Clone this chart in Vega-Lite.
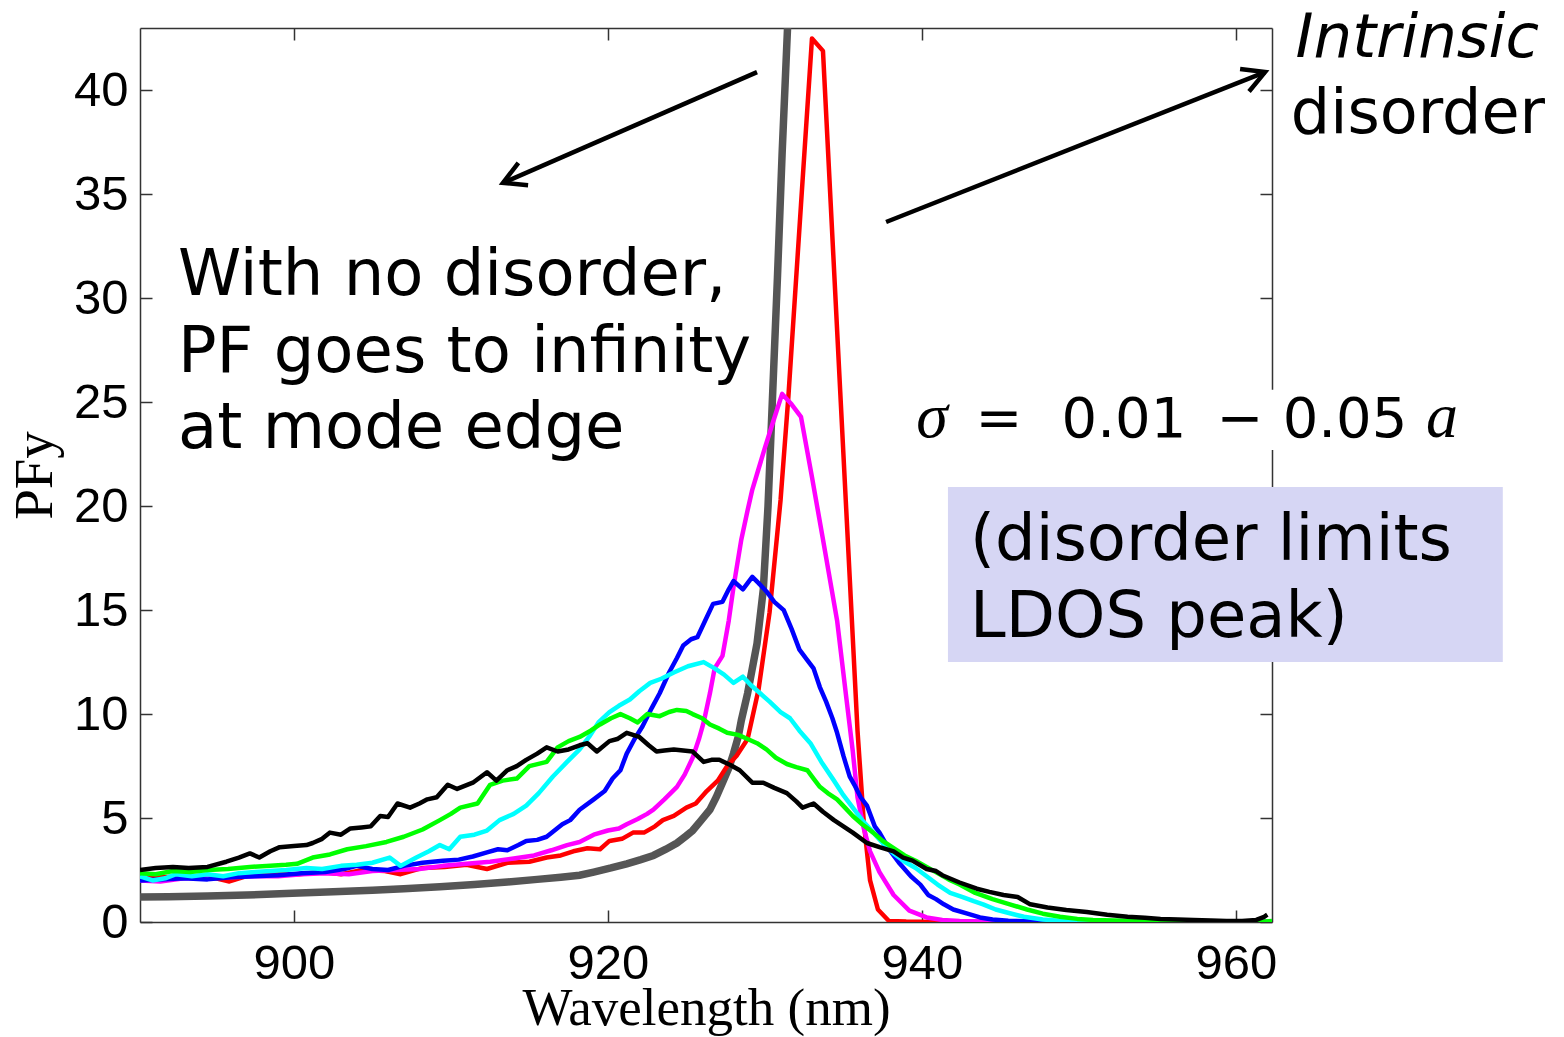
{
  "$schema": "https://vega.github.io/schema/vega-lite/v6.json",
  "width": 1132,
  "height": 894,
  "autosize": {"type": "none"},
  "padding": {"left": 140, "top": 28, "right": 292, "bottom": 115},
  "background": "white",
  "config": {"view": {"stroke": null}},
  "datasets": {
    "gray": [
      {"s":"s0","x":890.2,"y":1.2},{"s":"s0","x":892,"y":1.22},{"s":"s0","x":894.5,"y":1.25},{"s":"s0","x":897,"y":1.3},{"s":"s0","x":899.9,"y":1.38},{"s":"s0","x":902.5,"y":1.45},{"s":"s0","x":905,"y":1.53},{"s":"s0","x":907,"y":1.6},{"s":"s0","x":909.3,"y":1.7},{"s":"s0","x":911.5,"y":1.8},{"s":"s0","x":913.6,"y":1.92},{"s":"s0","x":915.5,"y":2.05},{"s":"s0","x":917,"y":2.15},{"s":"s0","x":918.2,"y":2.25},{"s":"s0","x":919.1,"y":2.4},{"s":"s0","x":920.2,"y":2.6},{"s":"s0","x":921.2,"y":2.8},{"s":"s0","x":922.1,"y":3.0},{"s":"s0","x":922.9,"y":3.2},{"s":"s0","x":923.7,"y":3.5},{"s":"s0","x":924.4,"y":3.8},{"s":"s0","x":925.0,"y":4.15},{"s":"s0","x":925.4,"y":4.4},{"s":"s0","x":925.9,"y":4.85},{"s":"s0","x":926.5,"y":5.4},{"s":"s0","x":926.9,"y":6.0},{"s":"s0","x":927.3,"y":6.7},{"s":"s0","x":927.7,"y":7.4},{"s":"s0","x":928.0,"y":8.1},{"s":"s0","x":928.3,"y":8.9},{"s":"s0","x":928.5,"y":9.7},{"s":"s0","x":928.9,"y":11.0},{"s":"s0","x":929.2,"y":12.2},{"s":"s0","x":929.5,"y":13.4},{"s":"s0","x":929.9,"y":16.0},{"s":"s0","x":930.2,"y":20.0},{"s":"s0","x":930.5,"y":25.5},{"s":"s0","x":930.8,"y":31},{"s":"s0","x":931.1,"y":37},{"s":"s0","x":931.5,"y":44},{"s":"s0","x":931.8,"y":55}
    ],
    "curves": [
      {"s":"s1","x":890.2,"y":2.1},{"s":"s1","x":891.5,"y":2.15},{"s":"s1","x":893.0,"y":2.2},{"s":"s1","x":894.5,"y":2.2},{"s":"s1","x":895.9,"y":1.95},{"s":"s1","x":897.2,"y":2.25},{"s":"s1","x":898.8,"y":2.3},{"s":"s1","x":900.3,"y":2.3},{"s":"s1","x":901.8,"y":2.4},{"s":"s1","x":903.0,"y":2.3},{"s":"s1","x":904.4,"y":2.5},{"s":"s1","x":905.8,"y":2.45},{"s":"s1","x":906.8,"y":2.3},{"s":"s1","x":908.2,"y":2.6},{"s":"s1","x":909.6,"y":2.65},{"s":"s1","x":911.0,"y":2.75},{"s":"s1","x":912.3,"y":2.55},{"s":"s1","x":913.6,"y":2.85},{"s":"s1","x":915.0,"y":2.9},{"s":"s1","x":916.1,"y":3.1},{"s":"s1","x":917.0,"y":3.2},{"s":"s1","x":917.8,"y":3.4},{"s":"s1","x":918.7,"y":3.55},{"s":"s1","x":919.5,"y":3.5},{"s":"s1","x":920.1,"y":3.9},{"s":"s1","x":920.9,"y":4.0},{"s":"s1","x":921.6,"y":4.3},{"s":"s1","x":922.3,"y":4.3},{"s":"s1","x":923.0,"y":4.6},{"s":"s1","x":923.5,"y":4.9},{"s":"s1","x":924.2,"y":5.1},{"s":"s1","x":925.0,"y":5.5},{"s":"s1","x":925.6,"y":5.7},{"s":"s1","x":926.3,"y":6.3},{"s":"s1","x":927.0,"y":6.8},{"s":"s1","x":927.6,"y":7.5},{"s":"s1","x":928.2,"y":8.0},{"s":"s1","x":928.9,"y":8.8},{"s":"s1","x":929.6,"y":11.2},{"s":"s1","x":930.3,"y":14.9},{"s":"s1","x":931.0,"y":20.3},{"s":"s1","x":931.5,"y":25.3},{"s":"s1","x":932.3,"y":34.5},{"s":"s1","x":933.0,"y":42.5},{"s":"s1","x":933.7,"y":41.9},{"s":"s1","x":934.8,"y":25.5},{"s":"s1","x":935.9,"y":9.2},{"s":"s1","x":936.3,"y":4.8},{"s":"s1","x":936.7,"y":2.0},{"s":"s1","x":937.2,"y":0.6},{"s":"s1","x":937.9,"y":0.05},{"s":"s1","x":939,"y":0.02},{"s":"s1","x":941,"y":0},{"s":"s1","x":950,"y":0},{"s":"s1","x":962.3,"y":0},

      {"s":"s2","x":890.2,"y":2.0},{"s":"s2","x":891.5,"y":1.95},{"s":"s2","x":893,"y":2.1},{"s":"s2","x":894.5,"y":2.1},{"s":"s2","x":896,"y":2.15},{"s":"s2","x":897.5,"y":2.2},{"s":"s2","x":899,"y":2.2},{"s":"s2","x":900.5,"y":2.3},{"s":"s2","x":902,"y":2.35},{"s":"s2","x":903.5,"y":2.3},{"s":"s2","x":905,"y":2.45},{"s":"s2","x":906.5,"y":2.5},{"s":"s2","x":908,"y":2.55},{"s":"s2","x":909.5,"y":2.7},{"s":"s2","x":911,"y":2.8},{"s":"s2","x":912.5,"y":2.9},{"s":"s2","x":914,"y":3.05},{"s":"s2","x":915.3,"y":3.2},{"s":"s2","x":916.4,"y":3.45},{"s":"s2","x":917.4,"y":3.7},{"s":"s2","x":918.2,"y":3.85},{"s":"s2","x":919.1,"y":4.2},{"s":"s2","x":920.0,"y":4.4},{"s":"s2","x":920.7,"y":4.5},{"s":"s2","x":921.2,"y":4.7},{"s":"s2","x":921.9,"y":4.95},{"s":"s2","x":922.5,"y":5.2},{"s":"s2","x":922.9,"y":5.4},{"s":"s2","x":923.6,"y":5.9},{"s":"s2","x":924.4,"y":6.5},{"s":"s2","x":924.9,"y":7.1},{"s":"s2","x":925.4,"y":7.9},{"s":"s2","x":925.8,"y":8.8},{"s":"s2","x":926.1,"y":9.6},{"s":"s2","x":926.5,"y":11.0},{"s":"s2","x":926.8,"y":12.2},{"s":"s2","x":927.3,"y":12.8},{"s":"s2","x":927.7,"y":14.5},{"s":"s2","x":928.0,"y":16.1},{"s":"s2","x":928.5,"y":18.4},{"s":"s2","x":928.9,"y":19.8},{"s":"s2","x":929.2,"y":20.8},{"s":"s2","x":929.6,"y":21.8},{"s":"s2","x":930.0,"y":22.8},{"s":"s2","x":930.5,"y":24.0},{"s":"s2","x":931.1,"y":25.4},{"s":"s2","x":931.7,"y":24.9},{"s":"s2","x":932.3,"y":24.3},{"s":"s2","x":933.0,"y":21.4},{"s":"s2","x":933.7,"y":18.4},{"s":"s2","x":934.6,"y":14.5},{"s":"s2","x":935.2,"y":10.7},{"s":"s2","x":935.6,"y":8.2},{"s":"s2","x":935.9,"y":6.0},{"s":"s2","x":936.3,"y":4.5},{"s":"s2","x":936.7,"y":3.4},{"s":"s2","x":937.3,"y":2.4},{"s":"s2","x":938.2,"y":1.3},{"s":"s2","x":939.2,"y":0.55},{"s":"s2","x":940.3,"y":0.22},{"s":"s2","x":941.3,"y":0.1},{"s":"s2","x":942.4,"y":0.05},{"s":"s2","x":944,"y":0.02},{"s":"s2","x":946,"y":0},{"s":"s2","x":962.3,"y":0},

      {"s":"s3","x":890.2,"y":2.0},{"s":"s3","x":891.5,"y":2.05},{"s":"s3","x":893,"y":2.1},{"s":"s3","x":894.5,"y":2.05},{"s":"s3","x":896,"y":2.15},{"s":"s3","x":897.5,"y":2.2},{"s":"s3","x":899,"y":2.25},{"s":"s3","x":900.5,"y":2.35},{"s":"s3","x":902,"y":2.4},{"s":"s3","x":903.2,"y":2.55},{"s":"s3","x":904.0,"y":2.7},{"s":"s3","x":905,"y":2.55},{"s":"s3","x":906,"y":2.5},{"s":"s3","x":907,"y":2.7},{"s":"s3","x":908.2,"y":2.85},{"s":"s3","x":909.5,"y":2.95},{"s":"s3","x":910.5,"y":3.0},{"s":"s3","x":911.4,"y":3.15},{"s":"s3","x":912.3,"y":3.35},{"s":"s3","x":913.0,"y":3.5},{"s":"s3","x":913.6,"y":3.45},{"s":"s3","x":914.3,"y":3.7},{"s":"s3","x":914.8,"y":3.9},{"s":"s3","x":915.5,"y":3.95},{"s":"s3","x":916.1,"y":4.1},{"s":"s3","x":916.6,"y":4.4},{"s":"s3","x":917.1,"y":4.7},{"s":"s3","x":917.6,"y":4.9},{"s":"s3","x":918.2,"y":5.4},{"s":"s3","x":919.1,"y":5.9},{"s":"s3","x":919.8,"y":6.3},{"s":"s3","x":920.3,"y":6.9},{"s":"s3","x":920.8,"y":7.3},{"s":"s3","x":921.2,"y":8.1},{"s":"s3","x":921.7,"y":8.8},{"s":"s3","x":922.2,"y":9.4},{"s":"s3","x":922.8,"y":10.3},{"s":"s3","x":923.3,"y":11.0},{"s":"s3","x":923.9,"y":12.0},{"s":"s3","x":924.4,"y":12.7},{"s":"s3","x":924.8,"y":13.3},{"s":"s3","x":925.3,"y":13.6},{"s":"s3","x":925.7,"y":13.7},{"s":"s3","x":926.2,"y":14.5},{"s":"s3","x":926.7,"y":15.3},{"s":"s3","x":927.3,"y":15.4},{"s":"s3","x":927.7,"y":16.0},{"s":"s3","x":928.0,"y":16.4},{"s":"s3","x":928.6,"y":16.0},{"s":"s3","x":929.2,"y":16.6},{"s":"s3","x":929.6,"y":16.3},{"s":"s3","x":930.1,"y":15.9},{"s":"s3","x":930.6,"y":15.4},{"s":"s3","x":931.2,"y":15.0},{"s":"s3","x":931.7,"y":14.1},{"s":"s3","x":932.2,"y":13.1},{"s":"s3","x":932.7,"y":12.6},{"s":"s3","x":933.1,"y":12.2},{"s":"s3","x":933.5,"y":11.3},{"s":"s3","x":933.9,"y":10.6},{"s":"s3","x":934.3,"y":9.8},{"s":"s3","x":934.6,"y":9.1},{"s":"s3","x":935.0,"y":8.0},{"s":"s3","x":935.4,"y":7.0},{"s":"s3","x":935.7,"y":6.6},{"s":"s3","x":936.1,"y":6.0},{"s":"s3","x":936.5,"y":5.6},{"s":"s3","x":937.0,"y":4.6},{"s":"s3","x":937.3,"y":4.3},{"s":"s3","x":937.9,"y":3.5},{"s":"s3","x":938.6,"y":2.8},{"s":"s3","x":939.3,"y":2.2},{"s":"s3","x":939.9,"y":1.8},{"s":"s3","x":940.4,"y":1.3},{"s":"s3","x":940.9,"y":1.1},{"s":"s3","x":941.4,"y":0.85},{"s":"s3","x":942.0,"y":0.6},{"s":"s3","x":942.9,"y":0.4},{"s":"s3","x":943.7,"y":0.22},{"s":"s3","x":944.5,"y":0.12},{"s":"s3","x":945.5,"y":0.06},{"s":"s3","x":947.3,"y":0.02},{"s":"s3","x":950,"y":0},{"s":"s3","x":962.3,"y":0},

      {"s":"s4","x":890.2,"y":2.2},{"s":"s4","x":891.0,"y":2.0},{"s":"s4","x":891.8,"y":2.1},{"s":"s4","x":892.5,"y":2.3},{"s":"s4","x":893.5,"y":2.2},{"s":"s4","x":894.5,"y":2.3},{"s":"s4","x":895.5,"y":2.2},{"s":"s4","x":896.5,"y":2.35},{"s":"s4","x":897.5,"y":2.4},{"s":"s4","x":898.5,"y":2.45},{"s":"s4","x":899.5,"y":2.5},{"s":"s4","x":900.8,"y":2.6},{"s":"s4","x":901.8,"y":2.55},{"s":"s4","x":903.0,"y":2.7},{"s":"s4","x":904.0,"y":2.75},{"s":"s4","x":905.0,"y":2.85},{"s":"s4","x":906.1,"y":3.1},{"s":"s4","x":906.8,"y":2.7},{"s":"s4","x":907.8,"y":3.1},{"s":"s4","x":908.6,"y":3.4},{"s":"s4","x":909.3,"y":3.7},{"s":"s4","x":909.9,"y":3.5},{"s":"s4","x":910.6,"y":4.1},{"s":"s4","x":911.5,"y":4.2},{"s":"s4","x":912.3,"y":4.4},{"s":"s4","x":913.1,"y":4.9},{"s":"s4","x":914.0,"y":5.2},{"s":"s4","x":914.8,"y":5.6},{"s":"s4","x":915.6,"y":6.2},{"s":"s4","x":916.5,"y":7.0},{"s":"s4","x":917.4,"y":7.7},{"s":"s4","x":918.2,"y":8.3},{"s":"s4","x":918.8,"y":8.9},{"s":"s4","x":919.4,"y":9.6},{"s":"s4","x":920.1,"y":10.1},{"s":"s4","x":920.7,"y":10.4},{"s":"s4","x":921.4,"y":10.7},{"s":"s4","x":922.0,"y":11.1},{"s":"s4","x":922.7,"y":11.5},{"s":"s4","x":923.4,"y":11.7},{"s":"s4","x":924.2,"y":12.0},{"s":"s4","x":925.1,"y":12.3},{"s":"s4","x":926.1,"y":12.5},{"s":"s4","x":926.8,"y":12.2},{"s":"s4","x":927.4,"y":11.9},{"s":"s4","x":928.0,"y":11.5},{"s":"s4","x":928.6,"y":11.8},{"s":"s4","x":929.1,"y":11.4},{"s":"s4","x":929.7,"y":11.0},{"s":"s4","x":930.3,"y":10.6},{"s":"s4","x":931.0,"y":10.1},{"s":"s4","x":931.6,"y":9.8},{"s":"s4","x":932.2,"y":9.2},{"s":"s4","x":932.9,"y":8.6},{"s":"s4","x":933.6,"y":7.7},{"s":"s4","x":934.4,"y":6.8},{"s":"s4","x":935.0,"y":6.1},{"s":"s4","x":935.6,"y":5.5},{"s":"s4","x":936.2,"y":4.9},{"s":"s4","x":936.9,"y":4.3},{"s":"s4","x":937.5,"y":3.8},{"s":"s4","x":938.2,"y":3.3},{"s":"s4","x":938.9,"y":2.9},{"s":"s4","x":939.6,"y":2.6},{"s":"s4","x":940.3,"y":2.2},{"s":"s4","x":941.0,"y":1.8},{"s":"s4","x":941.8,"y":1.4},{"s":"s4","x":942.6,"y":1.2},{"s":"s4","x":943.3,"y":1.0},{"s":"s4","x":943.9,"y":0.85},{"s":"s4","x":944.7,"y":0.6},{"s":"s4","x":945.6,"y":0.42},{"s":"s4","x":946.5,"y":0.25},{"s":"s4","x":947.7,"y":0.12},{"s":"s4","x":949.2,"y":0.04},{"s":"s4","x":951,"y":0.01},{"s":"s4","x":955,"y":0},{"s":"s4","x":962.3,"y":0},

      {"s":"s5","x":890.2,"y":2.35},{"s":"s5","x":891.2,"y":2.3},{"s":"s5","x":892.3,"y":2.45},{"s":"s5","x":893.4,"y":2.4},{"s":"s5","x":894.5,"y":2.5},{"s":"s5","x":895.8,"y":2.55},{"s":"s5","x":897.2,"y":2.65},{"s":"s5","x":898.5,"y":2.7},{"s":"s5","x":899.5,"y":2.75},{"s":"s5","x":900.2,"y":2.8},{"s":"s5","x":901.2,"y":3.1},{"s":"s5","x":902.3,"y":3.25},{"s":"s5","x":903.4,"y":3.5},{"s":"s5","x":904.6,"y":3.65},{"s":"s5","x":905.9,"y":3.85},{"s":"s5","x":907.0,"y":4.1},{"s":"s5","x":908.2,"y":4.45},{"s":"s5","x":909.3,"y":4.9},{"s":"s5","x":910.0,"y":5.2},{"s":"s5","x":910.6,"y":5.5},{"s":"s5","x":911.7,"y":5.7},{"s":"s5","x":912.5,"y":6.6},{"s":"s5","x":913.3,"y":6.8},{"s":"s5","x":914.2,"y":6.9},{"s":"s5","x":915.0,"y":7.5},{"s":"s5","x":916.1,"y":7.7},{"s":"s5","x":916.8,"y":8.4},{"s":"s5","x":917.5,"y":8.7},{"s":"s5","x":918.2,"y":8.9},{"s":"s5","x":918.9,"y":9.2},{"s":"s5","x":919.5,"y":9.5},{"s":"s5","x":920.2,"y":9.8},{"s":"s5","x":920.8,"y":10.0},{"s":"s5","x":921.4,"y":9.8},{"s":"s5","x":921.9,"y":9.6},{"s":"s5","x":922.5,"y":10.0},{"s":"s5","x":923.3,"y":9.9},{"s":"s5","x":923.9,"y":10.1},{"s":"s5","x":924.4,"y":10.2},{"s":"s5","x":925.0,"y":10.15},{"s":"s5","x":925.4,"y":10.0},{"s":"s5","x":926.0,"y":9.8},{"s":"s5","x":926.5,"y":9.5},{"s":"s5","x":927.1,"y":9.3},{"s":"s5","x":927.6,"y":9.1},{"s":"s5","x":928.3,"y":9.0},{"s":"s5","x":928.9,"y":8.8},{"s":"s5","x":929.5,"y":8.6},{"s":"s5","x":930.1,"y":8.3},{"s":"s5","x":930.7,"y":7.9},{"s":"s5","x":931.4,"y":7.6},{"s":"s5","x":932.0,"y":7.45},{"s":"s5","x":932.7,"y":7.3},{"s":"s5","x":933.1,"y":6.9},{"s":"s5","x":933.5,"y":6.5},{"s":"s5","x":934.0,"y":6.2},{"s":"s5","x":934.6,"y":5.9},{"s":"s5","x":935.1,"y":5.5},{"s":"s5","x":935.6,"y":5.1},{"s":"s5","x":936.2,"y":4.7},{"s":"s5","x":936.9,"y":4.3},{"s":"s5","x":937.5,"y":3.9},{"s":"s5","x":938.2,"y":3.55},{"s":"s5","x":938.9,"y":3.2},{"s":"s5","x":939.6,"y":2.95},{"s":"s5","x":940.3,"y":2.65},{"s":"s5","x":941.0,"y":2.35},{"s":"s5","x":941.7,"y":2.05},{"s":"s5","x":942.4,"y":1.8},{"s":"s5","x":943.4,"y":1.4},{"s":"s5","x":944.5,"y":1.1},{"s":"s5","x":945.6,"y":0.85},{"s":"s5","x":946.7,"y":0.6},{"s":"s5","x":947.7,"y":0.4},{"s":"s5","x":948.8,"y":0.25},{"s":"s5","x":949.9,"y":0.15},{"s":"s5","x":950.9,"y":0.1},{"s":"s5","x":953,"y":0.06},{"s":"s5","x":956,"y":0.04},{"s":"s5","x":959,"y":0.02},{"s":"s5","x":961.7,"y":0.01},{"s":"s5","x":962.3,"y":0.05},

      {"s":"s6","x":890.2,"y":2.5},{"s":"s6","x":891.2,"y":2.6},{"s":"s6","x":892.3,"y":2.65},{"s":"s6","x":893.3,"y":2.6},{"s":"s6","x":894.5,"y":2.65},{"s":"s6","x":895.7,"y":2.9},{"s":"s6","x":896.5,"y":3.1},{"s":"s6","x":897.2,"y":3.3},{"s":"s6","x":897.8,"y":3.1},{"s":"s6","x":898.5,"y":3.4},{"s":"s6","x":899.1,"y":3.6},{"s":"s6","x":900.0,"y":3.65},{"s":"s6","x":900.8,"y":3.7},{"s":"s6","x":901.2,"y":3.8},{"s":"s6","x":901.8,"y":4.0},{"s":"s6","x":902.3,"y":4.3},{"s":"s6","x":903.0,"y":4.2},{"s":"s6","x":903.6,"y":4.5},{"s":"s6","x":904.3,"y":4.55},{"s":"s6","x":904.9,"y":4.6},{"s":"s6","x":905.5,"y":5.1},{"s":"s6","x":906.0,"y":5.05},{"s":"s6","x":906.6,"y":5.7},{"s":"s6","x":907.4,"y":5.5},{"s":"s6","x":908.0,"y":5.7},{"s":"s6","x":908.5,"y":5.9},{"s":"s6","x":909.1,"y":6.0},{"s":"s6","x":909.8,"y":6.6},{"s":"s6","x":910.4,"y":6.4},{"s":"s6","x":911.4,"y":6.7},{"s":"s6","x":912.3,"y":7.2},{"s":"s6","x":912.9,"y":6.8},{"s":"s6","x":913.6,"y":7.3},{"s":"s6","x":914.2,"y":7.5},{"s":"s6","x":914.8,"y":7.8},{"s":"s6","x":915.5,"y":8.1},{"s":"s6","x":916.1,"y":8.4},{"s":"s6","x":916.8,"y":8.2},{"s":"s6","x":917.5,"y":8.3},{"s":"s6","x":918.2,"y":8.5},{"s":"s6","x":918.7,"y":8.6},{"s":"s6","x":919.3,"y":8.2},{"s":"s6","x":920.1,"y":8.7},{"s":"s6","x":920.6,"y":8.8},{"s":"s6","x":921.2,"y":9.1},{"s":"s6","x":921.6,"y":9.0},{"s":"s6","x":922.0,"y":8.9},{"s":"s6","x":922.6,"y":8.5},{"s":"s6","x":923.1,"y":8.2},{"s":"s6","x":923.6,"y":8.25},{"s":"s6","x":924.2,"y":8.3},{"s":"s6","x":924.8,"y":8.25},{"s":"s6","x":925.4,"y":8.2},{"s":"s6","x":926.1,"y":7.7},{"s":"s6","x":926.6,"y":7.8},{"s":"s6","x":927.1,"y":7.8},{"s":"s6","x":927.8,"y":7.55},{"s":"s6","x":928.4,"y":7.3},{"s":"s6","x":929.2,"y":6.7},{"s":"s6","x":929.9,"y":6.7},{"s":"s6","x":930.6,"y":6.45},{"s":"s6","x":931.4,"y":6.2},{"s":"s6","x":932.0,"y":5.8},{"s":"s6","x":932.4,"y":5.5},{"s":"s6","x":933.1,"y":5.7},{"s":"s6","x":933.7,"y":5.3},{"s":"s6","x":934.4,"y":4.9},{"s":"s6","x":935.0,"y":4.6},{"s":"s6","x":935.6,"y":4.3},{"s":"s6","x":936.5,"y":3.8},{"s":"s6","x":937.3,"y":3.6},{"s":"s6","x":938.2,"y":3.4},{"s":"s6","x":938.8,"y":3.1},{"s":"s6","x":939.4,"y":2.95},{"s":"s6","x":940.3,"y":2.55},{"s":"s6","x":940.9,"y":2.45},{"s":"s6","x":941.3,"y":2.25},{"s":"s6","x":942.4,"y":1.9},{"s":"s6","x":943.5,"y":1.6},{"s":"s6","x":944.3,"y":1.45},{"s":"s6","x":945.2,"y":1.3},{"s":"s6","x":946.1,"y":1.2},{"s":"s6","x":946.9,"y":0.85},{"s":"s6","x":948.0,"y":0.7},{"s":"s6","x":949.2,"y":0.58},{"s":"s6","x":950.5,"y":0.48},{"s":"s6","x":951.8,"y":0.35},{"s":"s6","x":953.1,"y":0.25},{"s":"s6","x":954.2,"y":0.2},{"s":"s6","x":955.2,"y":0.15},{"s":"s6","x":956.3,"y":0.12},{"s":"s6","x":957.3,"y":0.1},{"s":"s6","x":958.4,"y":0.07},{"s":"s6","x":959.4,"y":0.05},{"s":"s6","x":960.4,"y":0.05},{"s":"s6","x":961.3,"y":0.1},{"s":"s6","x":961.8,"y":0.25},{"s":"s6","x":962.0,"y":0.35}
    ],
    "notes": [
      {"t":"With no disorder,","x":892.62,"y":30.16},
      {"t":"PF goes to infinity","x":892.62,"y":26.46},
      {"t":"at mode edge","x":892.62,"y":22.80},
      {"t":"(disorder limits","x":943.07,"y":17.41},
      {"t":"LDOS peak)","x":943.07,"y":13.71}
    ],
    "mathUp": [
      {"t":"=","x":944.91,"y":23.33},
      {"t":"0.01","x":952.87,"y":23.33},
      {"t":"−","x":960.26,"y":23.33},
      {"t":"0.05","x":966.95,"y":23.33}
    ],
    "mathIt": [
      {"t":"σ","x":940.65,"y":23.33},
      {"t":"a","x":973.13,"y":23.33}
    ],
    "arrows": [
      {"x":929.5,"y":40.88,"x2":913.32,"y2":35.55},
      {"x":937.72,"y":33.67,"x2":961.86,"y2":40.88}
    ]
  },
  "layer": [
    {
      "data": {"name": "gray"},
      "mark": {"type": "line", "color": "#555555", "strokeWidth": 7.5, "clip": true, "strokeCap": "butt"},
      "encoding": {
        "x": {"field": "x", "type": "quantitative",
          "scale": {"domain": [890.2, 962.3], "nice": false, "zero": false},
          "axis": {"orient": "bottom", "values": [900, 920, 940, 960], "tickSize": -12, "tickWidth": 1.5, "tickColor": "#333333",
            "domainColor": "#333333", "domainWidth": 1.5, "grid": false, "labelFlush": false, "labelOverlap": false,
            "labelFont": "Liberation Sans", "labelFontSize": 49, "labelColor": "#000000", "labelPadding": 29,
            "title": "Wavelength (nm)", "titleFont": "Liberation Serif", "titleFontSize": 53, "titleFontWeight": "normal",
            "titleColor": "#000000", "titlePadding": -6}},
        "y": {"field": "y", "type": "quantitative",
          "scale": {"domain": [0, 43], "nice": false, "zero": true},
          "axis": {"orient": "left", "values": [0, 5, 10, 15, 20, 25, 30, 35, 40], "tickSize": -12, "tickWidth": 1.5, "tickColor": "#333333",
            "domainColor": "#333333", "domainWidth": 1.5, "grid": false, "labelFlush": false, "labelOverlap": false,
            "labelFont": "Liberation Sans", "labelFontSize": 49, "labelColor": "#000000", "labelPadding": 24,
            "title": "PFy", "titleFont": "Liberation Serif", "titleFontSize": 55, "titleFontWeight": "normal",
            "titleColor": "#000000", "titlePadding": 10}}
      }
    },
    {
      "data": {"name": "curves"},
      "mark": {"type": "line", "strokeWidth": 4.5, "clip": true, "strokeJoin": "round"},
      "encoding": {
        "x": {"field": "x", "type": "quantitative",
          "axis": {"orient": "top", "values": [900, 920, 940, 960], "tickSize": -12, "tickWidth": 1.5, "tickColor": "#333333",
            "domainColor": "#333333", "domainWidth": 1.5, "grid": false, "labels": false, "title": null}},
        "y": {"field": "y", "type": "quantitative",
          "axis": {"orient": "right", "values": [0, 5, 10, 15, 20, 25, 30, 35, 40], "tickSize": -12, "tickWidth": 1.5, "tickColor": "#333333",
            "domainColor": "#333333", "domainWidth": 1.5, "grid": false, "labels": false, "title": null}},
        "color": {"field": "s", "type": "nominal",
          "scale": {"domain": ["s1", "s2", "s3", "s4", "s5", "s6"], "range": ["#ff0000", "#ff00ff", "#0000ff", "#00ffff", "#00ff00", "#000000"]},
          "legend": null}
      }
    },
    {
      "data": {"values": [{"x": 938.9, "x2": 974.9, "y": 22.7, "y2": 25.6}]},
      "mark": {"type": "rect", "fill": "#ffffff"},
      "encoding": {
        "x": {"field": "x", "type": "quantitative", "axis": null},
        "x2": {"field": "x2"},
        "y": {"field": "y", "type": "quantitative", "axis": null},
        "y2": {"field": "y2"}
      }
    },
    {
      "data": {"values": [{"x": 941.66, "x2": 977.0, "y": 12.5, "y2": 20.92}]},
      "mark": {"type": "rect", "fill": "#d6d6f4"},
      "encoding": {
        "x": {"field": "x", "type": "quantitative", "axis": null},
        "x2": {"field": "x2"},
        "y": {"field": "y", "type": "quantitative", "axis": null},
        "y2": {"field": "y2"}
      }
    },
    {
      "data": {"name": "arrows"},
      "mark": {"type": "rule", "color": "#000000", "strokeWidth": 4.5},
      "encoding": {
        "x": {"field": "x", "type": "quantitative", "axis": null},
        "x2": {"field": "x2"},
        "y": {"field": "y", "type": "quantitative", "axis": null},
        "y2": {"field": "y2"}
      }
    },
    {
      "data": {"values": [{"x": 913.32, "y": 35.55}]},
      "mark": {"type": "point", "shape": "M-0.55,1L0,0L0.55,1", "filled": false, "stroke": "#000000", "strokeWidth": 4.5, "size": 1950, "angle": 246.4, "opacity": 1},
      "encoding": {
        "x": {"field": "x", "type": "quantitative", "axis": null},
        "y": {"field": "y", "type": "quantitative", "axis": null}
      }
    },
    {
      "data": {"values": [{"x": 961.86, "y": 40.88}]},
      "mark": {"type": "point", "shape": "M-0.55,1L0,0L0.55,1", "filled": false, "stroke": "#000000", "strokeWidth": 4.5, "size": 1950, "angle": 68.4, "opacity": 1},
      "encoding": {
        "x": {"field": "x", "type": "quantitative", "axis": null},
        "y": {"field": "y", "type": "quantitative", "axis": null}
      }
    },
    {
      "data": {"name": "notes"},
      "mark": {"type": "text", "font": "DejaVu Sans", "fontSize": 64, "align": "left", "baseline": "alphabetic", "color": "#000000"},
      "encoding": {
        "x": {"field": "x", "type": "quantitative", "axis": null},
        "y": {"field": "y", "type": "quantitative", "axis": null},
        "text": {"field": "t"}
      }
    },
    {
      "data": {"values": [{"t": "disorder", "x": 963.5, "y": 37.95}]},
      "mark": {"type": "text", "font": "DejaVu Sans", "fontSize": 62, "align": "left", "baseline": "alphabetic", "color": "#000000"},
      "encoding": {
        "x": {"field": "x", "type": "quantitative", "axis": null},
        "y": {"field": "y", "type": "quantitative", "axis": null},
        "text": {"field": "t"}
      }
    },
    {
      "data": {"values": [{"t": "Intrinsic", "x": 963.8, "y": 41.6}]},
      "mark": {"type": "text", "font": "DejaVu Sans", "fontSize": 61, "fontStyle": "italic", "align": "left", "baseline": "alphabetic", "color": "#000000"},
      "encoding": {
        "x": {"field": "x", "type": "quantitative", "axis": null},
        "y": {"field": "y", "type": "quantitative", "axis": null},
        "text": {"field": "t"}
      }
    },
    {
      "data": {"name": "mathUp"},
      "mark": {"type": "text", "font": "DejaVu Sans", "fontSize": 56, "align": "center", "baseline": "alphabetic", "color": "#000000"},
      "encoding": {
        "x": {"field": "x", "type": "quantitative", "axis": null},
        "y": {"field": "y", "type": "quantitative", "axis": null},
        "text": {"field": "t"}
      }
    },
    {
      "data": {"name": "mathIt"},
      "mark": {"type": "text", "font": "Liberation Serif", "fontSize": 64, "fontStyle": "italic", "align": "center", "baseline": "alphabetic", "color": "#000000"},
      "encoding": {
        "x": {"field": "x", "type": "quantitative", "axis": null},
        "y": {"field": "y", "type": "quantitative", "axis": null},
        "text": {"field": "t"}
      }
    }
  ],
  "resolve": {"axis": {"x": "independent", "y": "independent"}}
}
